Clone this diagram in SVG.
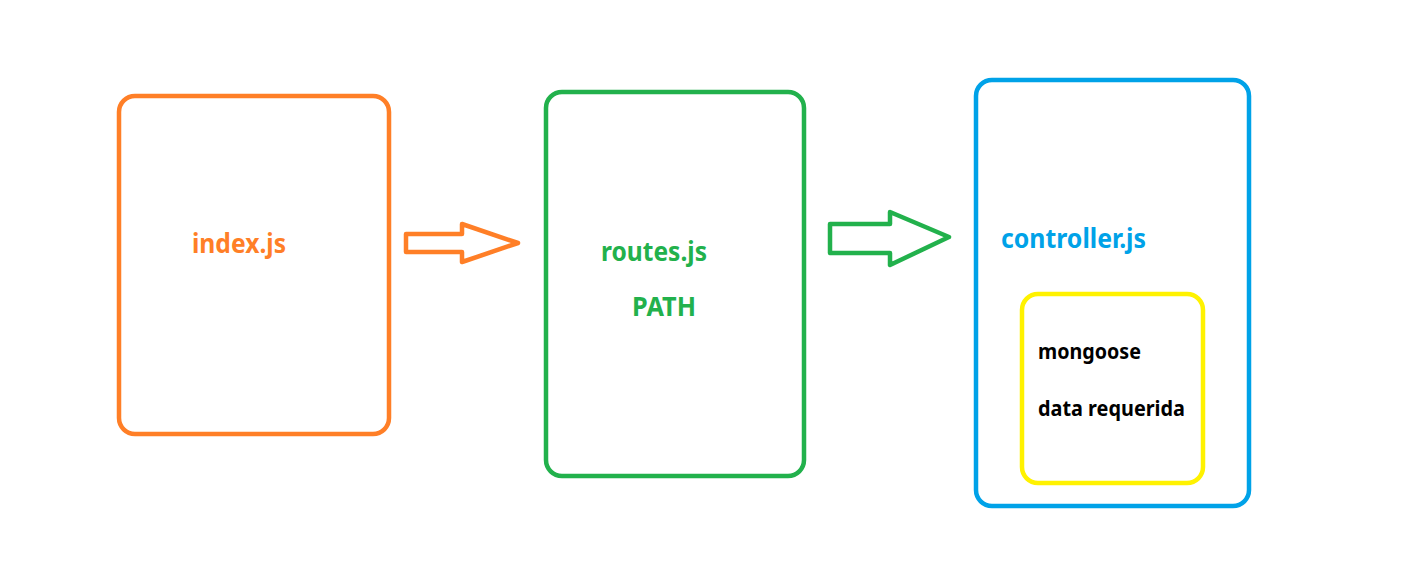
<svg xmlns="http://www.w3.org/2000/svg" width="1401" height="577" viewBox="0 0 1401 577">
<style>
.box{fill:none;stroke-width:4.5}
.lbl{font-family:"Noto Sans","Liberation Sans",sans-serif;font-weight:bold}
.big{font-size:27px}
.small{font-size:21px;fill:#000}
.arr{fill:none;stroke-width:4.5;stroke-linejoin:round}
</style>
<rect width="1401" height="577" fill="#fff"/>
<g id="index">
<rect class="box" x="119" y="96" width="270" height="338" rx="16" stroke="#FF7F27"/>
<text class="lbl big" x="192" y="253" fill="#FF7F27" textLength="94" lengthAdjust="spacingAndGlyphs">index.js</text>
</g>
<g id="routes">
<rect class="box" x="546" y="92" width="258" height="384" rx="16" stroke="#22B14C"/>
<text class="lbl big" x="601" y="261" fill="#22B14C" textLength="106" lengthAdjust="spacingAndGlyphs">routes.js</text>
<text class="lbl big" x="632" y="316" fill="#22B14C" textLength="64" lengthAdjust="spacingAndGlyphs">PATH</text>
</g>
<g id="controller">
<rect class="box" x="976" y="80" width="273" height="426" rx="16" stroke="#00A2E8"/>
<text class="lbl big" x="1001" y="248" fill="#00A2E8" textLength="145" lengthAdjust="spacingAndGlyphs">controller.js</text>
<g id="mongoose">
<rect class="box" x="1022" y="294" width="181" height="189" rx="16" stroke="#FFF200"/>
<text class="lbl small" x="1038" y="359" textLength="103" lengthAdjust="spacingAndGlyphs">mongoose</text>
<text class="lbl small" x="1038" y="416" textLength="147" lengthAdjust="spacingAndGlyphs">data requerida</text>
</g>
</g>
<g id="connectors">
<path class="arr" stroke="#FF7F27" d="M406,234 H462 V224 L518,243 L462,262 V252 H406 Z"/>
<path class="arr" stroke="#22B14C" d="M830,224 H890 V212 L949,237 L890,265 V253 H830 Z"/>
</g>
</svg>
